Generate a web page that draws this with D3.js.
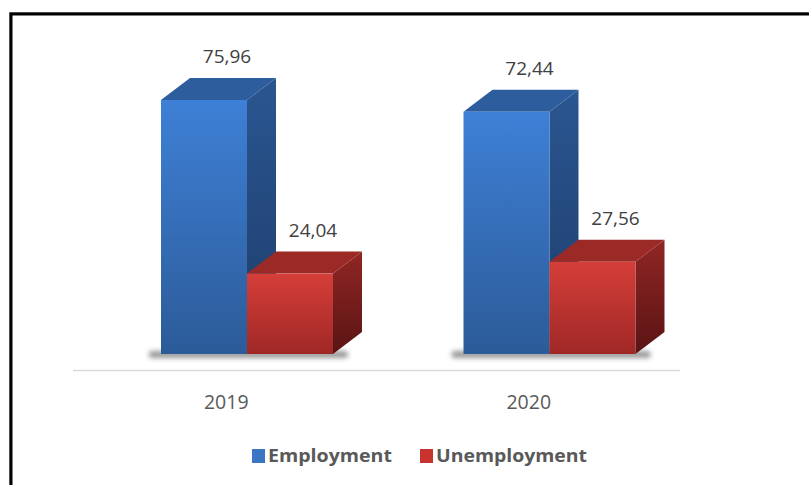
<!DOCTYPE html>
<html>
<head>
<meta charset="utf-8">
<script src="https://cdn.jsdelivr.net/npm/d3@7"></script>
<style>
    body { margin: 0; background: #fff; }
    svg { display: block; font-family: "Open Sans", "Noto Sans", sans-serif; }
</style>
</head>
<body>
<svg id="chart" width="809" height="485"></svg>
<script>
// data
const years = ["2019", "2020"];
const series = ["Employment", "Unemployment"];
const employment = [75.96, 72.44];
const unemployment = [24.04, 27.56];

const colors = {
    Employment: { front: ["#3e80d6", "#2c5b98"], side: ["#2a5691", "#1e3d6b"], top: "#2d5d9c", key: "#3a76c4" },
    Unemployment: { front: ["#d53e39", "#9f2826"], side: ["#902624", "#5a1414"], top: "#9b2a27", key: "#c9332f" }
};

const svg = d3.select("#chart");
const defs = svg.append("defs");

// frame of the original picture
svg.append("rect").attr("x", 9.5).attr("y", 12.5).attr("width", 820).attr("height", 500)
    .attr("fill", "none").attr("stroke", "#999").attr("stroke-width", 1);
svg.append("rect").attr("x", 11).attr("y", 14).attr("width", 820).attr("height", 500)
    .attr("fill", "none").attr("stroke", "#000").attr("stroke-width", 3);

const baseY = 354, topY = 100;
const x0 = d3.scaleBand().domain(years).range([75, 680]);
const y = d3.scaleLinear().domain([0, 75.96]).range([baseY, topY]);
const barW = 86, offset = 86, dx = 29, dy = 22;

// gradients
series.forEach(function (s, i) {
    ["front", "side"].forEach(function (part) {
        const g = defs.append("linearGradient").attr("id", "g" + i + part)
            .attr("x1", 0).attr("y1", 0).attr("x2", 0).attr("y2", 1);
        g.append("stop").attr("offset", "0%").attr("stop-color", colors[s][part][0]);
        g.append("stop").attr("offset", "100%").attr("stop-color", colors[s][part][1]);
    });
});
const blur = defs.append("filter").attr("id", "shadow").attr("x", "-20%").attr("y", "-300%")
    .attr("width", "140%").attr("height", "700%");
blur.append("feGaussianBlur").attr("stdDeviation", 2.5);

// axis line
svg.append("line").attr("x1", 73).attr("x2", 680).attr("y1", 370.5).attr("y2", 370.5)
    .attr("stroke", "#d9d9d9").attr("stroke-width", 1.5);

const bars = [];
years.forEach(function (yr, i) {
    [employment[i], unemployment[i]].forEach(function (v, j) {
        bars.push({ year: yr, series: series[j], idx: j, value: v, x: x0(yr) + offset + j * barW });
    });
});

// soft shadow under each pair of bars
svg.append("g").selectAll("rect").data(years).join("rect")
    .attr("x", d => x0(d) + offset - 12)
    .attr("y", baseY - 3)
    .attr("width", 2 * barW + dx - 2)
    .attr("height", 7)
    .attr("rx", 3)
    .attr("fill", "#444")
    .attr("opacity", 0.55)
    .attr("filter", "url(#shadow)");

// blue first so the red bar sits over its side face
const g = svg.append("g");
bars.forEach(function (b) {
    const yt = y(b.value);
    const xl = b.x, xr = b.x + barW;
    // side face
    g.append("path")
        .attr("d", `M${xr},${yt} L${xr + dx},${yt - dy} L${xr + dx},${baseY - dy} L${xr},${baseY} Z`)
        .attr("fill", `url(#g${b.idx}side)`);
    // top face
    g.append("path")
        .attr("d", `M${xl},${yt} L${xl + dx},${yt - dy} L${xr + dx},${yt - dy} L${xr},${yt} Z`)
        .attr("fill", colors[b.series].top);
    // front face
    g.append("rect").attr("x", xl).attr("y", yt).attr("width", barW).attr("height", baseY - yt)
        .attr("fill", `url(#g${b.idx}front)`);
});

// value labels
svg.append("g").selectAll("text").data(bars).join("text")
    .attr("x", d => d.x + barW / 2 + 23)
    .attr("y", d => y(d.value) - dy - 15)
    .attr("text-anchor", "middle")
    .attr("font-size", 19)
    .attr("fill", "#404040")
    .text(d => d.value.toFixed(2).replace(".", ","));

// category labels
svg.append("g").selectAll("text").data(years).join("text")
    .attr("x", d => x0(d) + x0.bandwidth() / 2)
    .attr("y", 409)
    .attr("text-anchor", "middle")
    .attr("font-size", 19.5)
    .attr("fill", "#595959")
    .text(d => d);

// legend
const legendX = [252, 420];
const legendLen = [124, 151];
const lg = svg.append("g").selectAll("g").data(series).join("g")
    .attr("transform", (d, i) => `translate(${legendX[i]},449)`);
lg.append("rect").attr("width", 13).attr("height", 14).attr("fill", d => colors[d].key);
lg.append("text").attr("x", 16).attr("y", 13)
    .attr("font-size", 18).attr("font-weight", "bold").attr("fill", "#595959")
    .attr("textLength", (d, i) => legendLen[i]).attr("lengthAdjust", "spacingAndGlyphs")
    .text(d => d);
</script>
</body>
</html>
